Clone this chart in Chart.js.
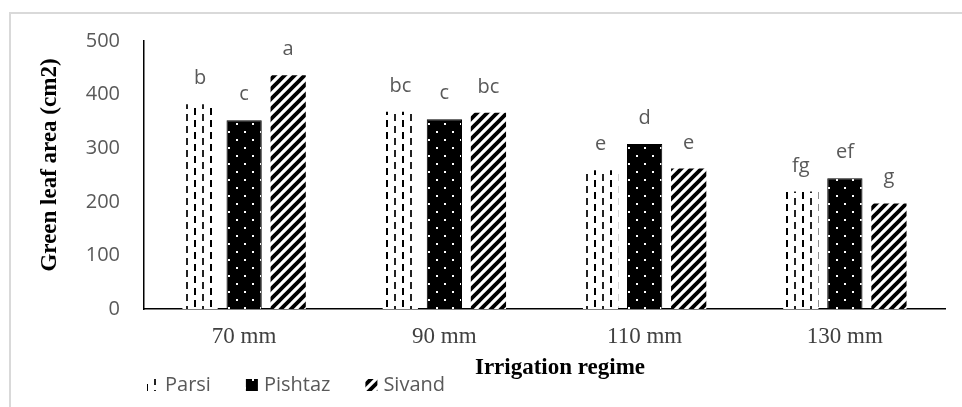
<!DOCTYPE html>
<html><head><meta charset="utf-8">
<script src="https://cdn.jsdelivr.net/npm/chart.js@4"></script>
<style>
html,body{margin:0;padding:0;background:#fff;}
#wrap{position:relative;width:962px;height:407px;overflow:hidden;}
#frame{position:absolute;left:9px;top:12px;width:1000px;height:500px;border-left:2px solid #d9d9d9;border-top:2px solid #d9d9d9;}
canvas{position:absolute;left:0;top:0;}
</style></head><body>
<div id="wrap"><div id="frame"></div><canvas id="c" width="962" height="407"></canvas></div>
<script>
const categories = ['70 mm', '90 mm', '110 mm', '130 mm'];
const seriesNames = ['Parsi', 'Pishtaz', 'Sivand'];
const parsi = [382, 368, 259, 219];
const pishtaz = [352, 354, 308, 244];
const sivand = [436, 366, 262, 197];
const parsiLetters = ['b', 'bc', 'e', 'fg'];
const pishtazLetters = ['c', 'c', 'd', 'ef'];
const sivandLetters = ['a', 'bc', 'e', 'g'];
const yTicks = [0, 100, 200, 300, 400, 500];
const xTitle = 'Irrigation regime';
const yTitle = 'Green leaf area (cm2)';

const canvas = document.getElementById('c');
const ctx = canvas.getContext('2d');

function mk(w, h, draw) {
  const c = document.createElement('canvas');
  c.width = w; c.height = h;
  const g = c.getContext('2d');
  draw(g, w, h);
  return ctx.createPattern(c, 'repeat');
}
const pParsi = mk(16, 12, (g) => {
  g.fillStyle = '#fff'; g.fillRect(0, 0, 16, 12);
  g.fillStyle = '#000';
  g.fillRect(2, 0, 2, 7);
  g.fillStyle = '#222';
  g.fillRect(10, 6, 2, 6);
  g.fillRect(10, 0, 2, 1);
});
const pPish = mk(16, 16, (g) => {
  g.fillStyle = '#000'; g.fillRect(0, 0, 16, 16);
  g.fillStyle = '#fff';
  g.fillRect(4, 3, 2, 2);
  g.fillRect(12, 11, 2, 2);
});
const pSiv = mk(10, 10, (g) => {
  g.fillStyle = '#fff'; g.fillRect(0, 0, 10, 10);
  g.strokeStyle = '#000'; g.lineWidth = 3.8; g.lineCap = 'butt';
  [[0, 10, 10, 0], [-5, 5, 5, -5], [5, 15, 15, 5]].forEach(([a, b, c2, d]) => {
    g.beginPath(); g.moveTo(a, b); g.lineTo(c2, d); g.stroke();
  });
});
const patterns = [pParsi, pPish, pSiv];
const seriesData = [parsi, pishtaz, sivand];
const seriesLetters = [parsiLetters, pishtazLetters, sivandLetters];

const extras = {
  id: 'extras',
  afterDatasetsDraw(chart) {
    const c = chart.ctx;
    c.save();
    c.fillStyle = '#595959';
    c.font = '20px "Open Sans"';
    c.textAlign = 'center';
    c.textBaseline = 'alphabetic';
    chart.data.datasets.forEach((ds, i) => {
      const meta = chart.getDatasetMeta(i);
      meta.data.forEach((bar, j) => {
        c.fillText(seriesLetters[i][j], bar.x, bar.y - 20);
      });
    });
    c.restore();
  },
  afterDraw(chart) {
    const c = chart.ctx;
    c.save();
    c.fillStyle = '#000';
    c.font = 'bold 23px "Liberation Serif"';
    c.textAlign = 'center';
    c.textBaseline = 'middle';
    c.fillText(xTitle, 560, 368);
    c.save();
    c.translate(50, 165);
    c.rotate(-Math.PI / 2);
    c.fillText(yTitle, 0, 0);
    c.restore();
    // legend
    c.font = '20px "Open Sans"';
    c.textAlign = 'left';
    c.textBaseline = 'middle';
    let x = 147;
    const cy = 385;
    seriesNames.forEach((name, i) => {
      c.fillStyle = patterns[i];
      c.fillRect(x, cy - 6, 12, 12);
      c.fillStyle = '#595959';
      c.fillText(name, x + 18, cy);
      x += 18 + c.measureText(name).width + 35;
    });
    c.restore();
  }
};

new Chart(ctx, {
  type: 'bar',
  data: {
    labels: categories,
    datasets: seriesNames.map((name, i) => ({
      label: name,
      data: seriesData[i],
      backgroundColor: patterns[i],
      borderColor: '#000',
      borderWidth: i === 1 ? 1 : 0,
      categoryPercentage: 0.66,
      barPercentage: 0.8
    }))
  },
  options: {
    responsive: false,
    animation: false,
    events: [],
    layout: { padding: { top: 41, right: 17, left: 0, bottom: 0 } },
    plugins: { legend: { display: false }, tooltip: { enabled: false } },
    scales: {
      x: {
        grid: { display: false, drawTicks: false },
        border: { display: true, color: '#000', width: 1.5 },
        ticks: { padding: 14, color: '#404040', font: { family: 'Liberation Serif', size: 23 } },
        afterFit(s) { s.height = 98; }
      },
      y: {
        min: 0, max: 500,
        afterBuildTicks(s) { s.ticks = yTicks.map(v => ({ value: v })); },
        grid: { display: false, drawTicks: false },
        border: { display: true, color: '#000', width: 1.5 },
        ticks: { padding: 24, color: '#595959', font: { family: 'Open Sans', size: 20 } },
        afterFit(s) { s.width = 144; }
      }
    }
  },
  plugins: [extras]
});
</script>
</body></html>
